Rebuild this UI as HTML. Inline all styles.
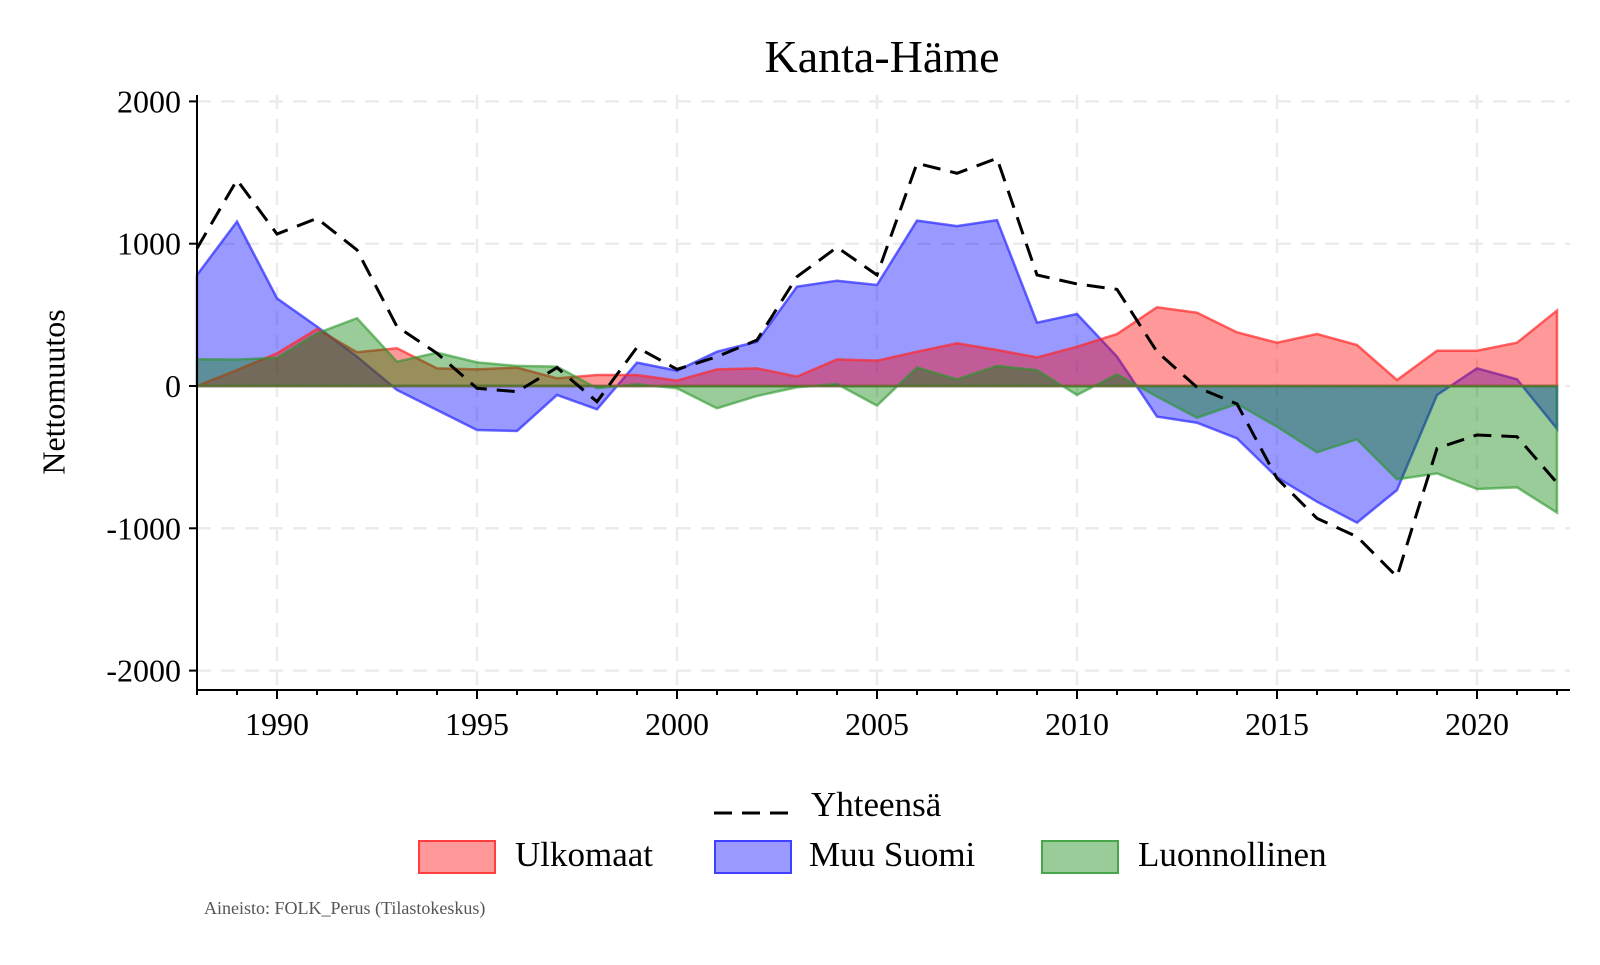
<!DOCTYPE html>
<html><head><meta charset="utf-8"><style>
body{margin:0;background:#fff;}
svg text{font-family:"Liberation Serif",serif;}
</style></head><body>
<svg id="chart" width="1600" height="960" xmlns="http://www.w3.org/2000/svg"></svg>
<script>
const years=[];for(let y=1988;y<=2022;y++)years.push(y);
const ulkomaat=[0,112,230,400,237,265,124,117,129,54,77,77,38,117,124,66,187,178,241,300,253,201,276,365,553,515,377,304,365,288,42,248,248,304,530];
const muuSuomi=[780,1155,616,417,206,-28,-169,-309,-316,-63,-164,164,108,241,311,698,740,710,1162,1124,1166,445,506,206,-215,-258,-368,-642,-813,-960,-731,-63,124,47,-300];
const luonnollinen=[188,186,198,370,476,171,234,166,141,136,-16,12,-16,-157,-70,-9,14,-138,131,47,141,112,-63,82,-75,-223,-126,-286,-466,-375,-656,-614,-724,-712,-890];
const yhteensa=[967,1448,1068,1178,956,417,230,-16,-40,129,-110,272,117,206,323,768,975,780,1565,1495,1600,780,717,679,241,-9,-126,-649,-930,-1059,-1340,-438,-344,-356,-680];
const yTicks=[-2000,-1000,0,1000,2000];
const xTicks=[1990,1995,2000,2005,2010,2015,2020];

const svg=document.getElementById('chart');
const NS='http://www.w3.org/2000/svg';
const X=v=>197+(v-1988)*40;
const Y=v=>386-v*0.1423;
const AXY=690;
function el(tag,attrs,parent){const e=document.createElementNS(NS,tag);for(const k in attrs)e.setAttribute(k,attrs[k]);(parent||svg).appendChild(e);return e;}

yTicks.forEach(t=>{const g=el('line',{x1:197,x2:1570,y1:Y(t),y2:Y(t),stroke:'#ebebeb','stroke-width':2.5,'stroke-dasharray':'14,10'});

});
xTicks.forEach(t=>{const g=el('line',{x1:X(t),x2:X(t),y1:95,y2:AXY,stroke:'#ebebeb','stroke-width':2.5,'stroke-dasharray':'14,10'});

});

function area(vals,fill,stroke,name){
  let d='M'+X(years[0])+','+Y(0);
  vals.forEach((v,i)=>{d+=' L'+X(years[i])+','+Y(v);});
  d+=' L'+X(years[years.length-1])+','+Y(0)+' Z';
  const p=el('path',{d:d,fill:fill,stroke:stroke,'stroke-width':2.5,'stroke-linejoin':'miter'});
  
  
}
area(muuSuomi,'rgba(0,0,255,0.4)','rgba(40,40,255,0.7)','area-muu-suomi');
area(ulkomaat,'rgba(255,0,0,0.4)','rgba(255,40,40,0.7)','area-ulkomaat');
area(luonnollinen,'rgba(0,128,0,0.4)','rgba(40,150,40,0.6)','area-luonnollinen');

let d='';yhteensa.forEach((v,i)=>{d+=(i?' L':'M')+X(years[i])+','+Y(v);});
const tl=el('path',{d:d,fill:'none',stroke:'#000','stroke-width':3,'stroke-dasharray':'18,10'});



const ya=el('line',{x1:197,x2:197,y1:95,y2:AXY,stroke:'#000','stroke-width':2});


const xa=el('line',{x1:196,x2:1570,y1:AXY,y2:AXY,stroke:'#000','stroke-width':2});


yTicks.forEach(t=>{
  el('line',{x1:189,x2:197,y1:Y(t),y2:Y(t),stroke:'#000','stroke-width':2});
  const tx=el('text',{x:181,y:Y(t)+11,'text-anchor':'end','font-size':32});
  tx.textContent=t;
  
  
});
years.forEach(y=>{const big=xTicks.includes(y);el('line',{x1:X(y),x2:X(y),y1:AXY,y2:big?AXY+9:AXY+5,stroke:'#000','stroke-width':2});});
xTicks.forEach(t=>{
  const tx=el('text',{x:X(t),y:735,'text-anchor':'middle','font-size':32});
  tx.textContent=t;
  
  
});
</script>
<div style="position:absolute;left:0;top:0;width:1600px;height:960px;pointer-events:none;font-family:'Liberation Serif',serif;">
  <div style="position:absolute;left:0;width:1764px;top:30px;text-align:center;font-size:46px;">Kanta-Häme</div>
  <div style="position:absolute;left:54px;top:392px;font-size:32px;transform:translate(-50%,-50%) rotate(-90deg);white-space:nowrap;">Nettomuutos</div>
  <div>
    <svg style="position:absolute;left:714px;top:806px" width="80" height="20"><line x1="0" y1="7" x2="80" y2="7" stroke="#000" stroke-width="3" stroke-dasharray="18,10"/></svg>
    <div style="position:absolute;left:811px;top:785px;font-size:35px;">Yhteensä</div>
    <div style="position:absolute;left:418px;top:840px;width:74px;height:30px;background:rgba(255,0,0,0.4);border:2.5px solid rgba(255,40,40,0.8);"></div>
    <div style="position:absolute;left:515px;top:835px;font-size:35px;">Ulkomaat</div>
    <div style="position:absolute;left:714px;top:840px;width:74px;height:30px;background:rgba(0,0,255,0.4);border:2.5px solid rgba(40,40,255,0.8);"></div>
    <div style="position:absolute;left:809px;top:835px;font-size:35px;">Muu Suomi</div>
    <div style="position:absolute;left:1041px;top:840px;width:74px;height:30px;background:rgba(0,128,0,0.4);border:2.5px solid rgba(40,150,40,0.7);"></div>
    <div style="position:absolute;left:1138px;top:835px;font-size:35px;">Luonnollinen</div>
  </div>
  <div style="position:absolute;left:204px;top:898px;font-size:18px;color:#555;">Aineisto: FOLK_Perus (Tilastokeskus)</div>
</div>
</body></html>
